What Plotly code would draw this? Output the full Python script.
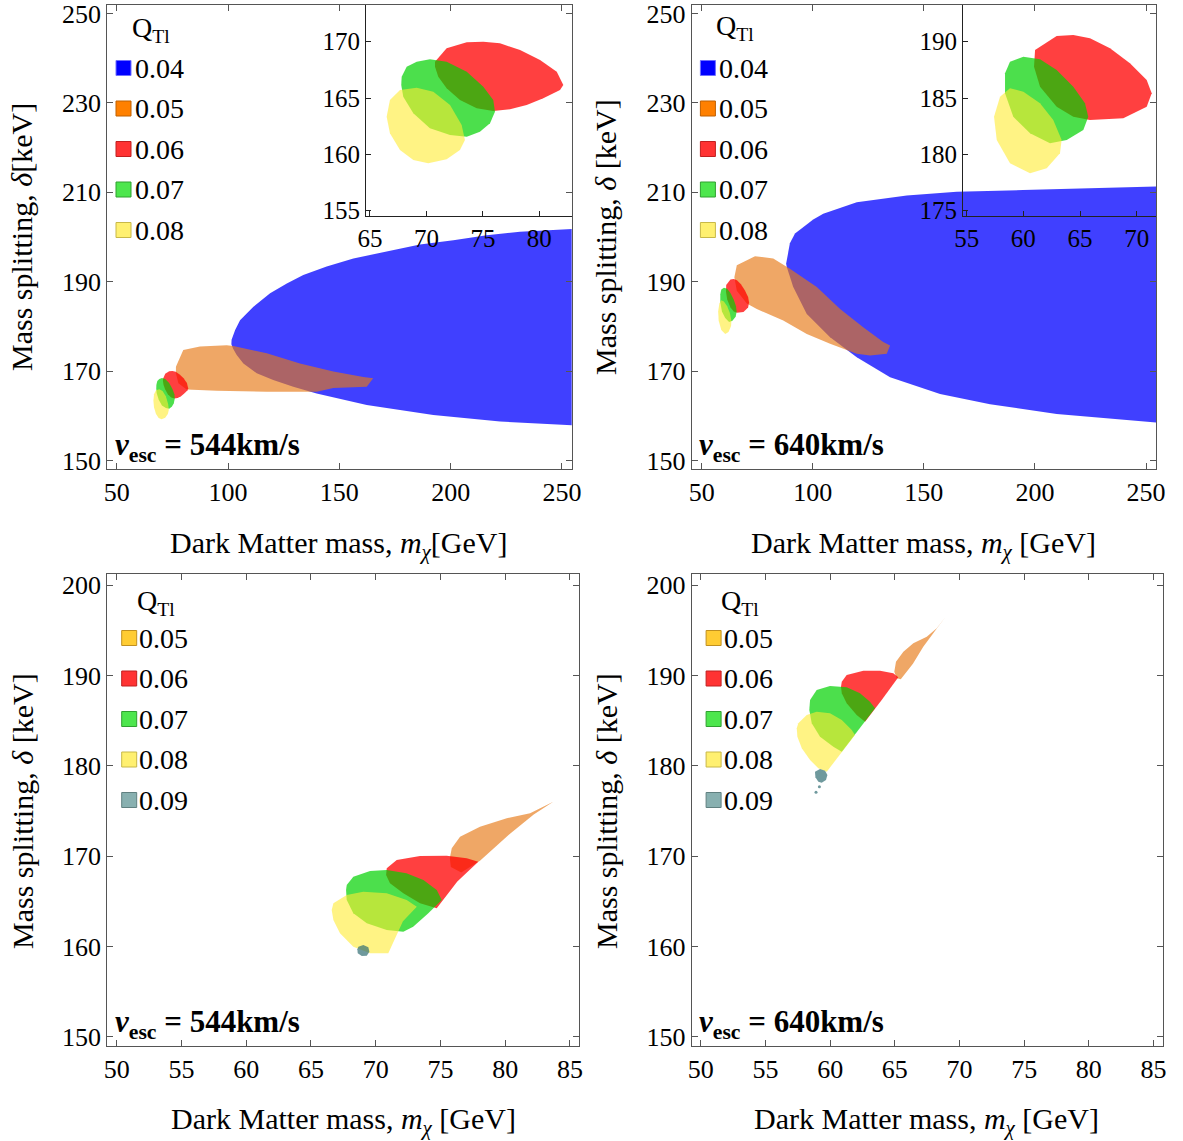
import plotly.graph_objects as go

W, H = 1183, 1141
FONT = "Liberation Serif"

# ---------------- legend categories ----------------
Q_TOP = ["0.04", "0.05", "0.06", "0.07", "0.08"]
Q_BOT = ["0.05", "0.06", "0.07", "0.08", "0.09"]
VESC = ["544", "640", "544", "640"]

# ---------------- tick values ----------------
TOP_XTICKS = [50, 100, 150, 200, 250]
TOP_YTICKS = [150, 170, 190, 210, 230, 250]
BOT_XTICKS = [50, 55, 60, 65, 70, 75, 80, 85]
BOT_YTICKS = [150, 160, 170, 180, 190, 200]
INS1_XTICKS = [65, 70, 75, 80]
INS1_YTICKS = [155, 160, 165, 170]
INS2_XTICKS = [55, 60, 65, 70]
INS2_YTICKS = [175, 180, 185, 190]

# ---------------- top-left panel (v_esc = 544 km/s), region outlines ----------------
TL_BLUE_X = [101.5, 101.6, 103.2, 105.4, 108.4, 111.4, 118.9, 126.4, 133.8, 144.3, 156.3, 171.3,
             186.2, 201.2, 216.2, 231.1, 254.4, 262.0,
             262.0, 254.4, 222.2, 192.2, 162.3, 139.8, 129.3, 120.3, 112.9, 106.9, 103.9, 102.3]
TL_BLUE_Y = [176.0, 177.0, 179.2, 181.4, 182.9, 184.4, 187.4, 189.6, 191.5, 193.4, 195.2, 196.7,
             198.3, 199.3, 200.4, 201.2, 201.9, 202.0,
             157.8, 157.9, 158.7, 160.2, 162.4, 165.0, 166.5, 168.0, 169.5, 171.7, 173.6, 175.0]

TL_ORANGE_X = [76.6, 79.9, 87.4, 99.4, 102.4, 117.4, 132.3, 147.3, 160.8, 165.2, 162.3,
               147.3, 139.8, 117.4, 94.9, 81.4, 77.7, 76.6]
TL_ORANGE_Y = [171.0, 174.7, 175.5, 175.8, 175.6, 174.0, 171.7, 169.9, 168.7, 168.4, 166.5,
               166.2, 165.4, 165.4, 165.6, 165.9, 167.3, 169.5]

TL_RED_X = [70.76, 71.79, 73.57, 75.04, 76.51, 78.29, 80.06, 81.54, 82.12, 81.83, 80.35,
            78.88, 77.40, 75.92, 74.45, 72.97, 71.79, 71.05, 70.76]
TL_RED_Y = [168.23, 169.41, 169.95, 170.00, 169.86, 169.26, 168.38, 167.34, 166.16, 165.71, 164.98,
            164.38, 164.00, 163.85, 164.09, 164.83, 165.87, 166.89, 167.78]

TL_GREEN_X = [67.81, 68.25, 69.14, 70.31, 71.79, 73.57, 75.04, 75.92, 76.07, 75.63, 74.74,
              73.57, 72.09, 70.31, 68.84, 67.95, 67.77]
TL_GREEN_Y = [166.89, 167.78, 168.23, 168.44, 168.23, 167.34, 166.01, 164.83, 163.79, 162.76, 162.01,
              161.57, 161.72, 162.32, 163.65, 165.12, 166.16]

TL_YELLOW_X = [66.77, 67.66, 69.14, 70.61, 72.09, 73.12, 73.41, 72.97, 71.79, 70.16, 68.84,
               67.66, 66.77, 66.48]
TL_YELLOW_Y = [164.83, 165.71, 165.92, 165.56, 164.38, 162.61, 161.28, 160.39, 159.57, 159.21, 159.50,
               160.39, 161.87, 163.35]

# ---------------- top-right panel (v_esc = 640 km/s) ----------------
TR_BLUE_X = [88.0, 88.3, 89.7, 92.0, 95.7, 100.2, 104.7, 119.8, 142.3, 164.8, 194.6, 254.5, 262.0,
             262.0, 254.5, 209.8, 179.8, 157.3, 134.8, 119.8, 107.8, 97.3, 91.2, 88.3]
TR_BLUE_Y = [194.0, 194.8, 198.6, 200.8, 202.2, 203.9, 205.2, 207.8, 209.3, 210.1, 210.5, 211.3, 211.4,
             158.4, 158.5, 160.4, 162.6, 164.9, 168.6, 173.1, 177.6, 182.8, 188.8, 193.3]

TR_ORANGE_X = [65.8, 74.0, 82.2, 89.7, 101.8, 112.3, 122.7, 131.7, 134.8, 133.3, 125.8,
               119.8, 107.8, 97.3, 86.7, 74.8, 70.3, 65.8, 64.7]
TR_ORANGE_Y = [193.7, 195.7, 195.2, 192.9, 188.8, 183.9, 179.8, 176.5, 175.7, 173.9, 173.5,
               173.9, 176.1, 178.3, 181.3, 183.9, 185.1, 188.0, 191.0]

TR_RED_X = [62.94, 61.03, 60.94, 61.47, 62.94, 64.41, 65.88, 68.82, 70.89, 71.33, 70.89,
            69.41, 67.65, 65.88, 64.41]
TR_RED_Y = [190.50, 189.26, 187.78, 186.00, 184.23, 183.34, 183.05, 183.20, 184.23, 185.42, 186.60,
            188.08, 189.41, 190.30, 190.60]

TR_GREEN_X = [60.00, 58.82, 58.38, 58.38, 59.11, 60.59, 62.35, 63.83, 65.29, 65.73, 65.44,
              64.41, 62.94, 61.47]
TR_GREEN_Y = [188.67, 188.23, 187.20, 185.42, 183.34, 181.87, 180.98, 181.28, 182.17, 183.34, 184.53,
              186.00, 187.49, 188.44]

TR_YELLOW_X = [58.82, 57.94, 57.41, 57.65, 58.82, 60.59, 62.06, 63.23, 63.38, 62.64, 61.47, 60.00]
TR_YELLOW_Y = [185.87, 185.12, 183.34, 181.28, 179.21, 178.32, 178.77, 180.10, 181.28, 183.05, 184.53, 185.56]

# ---------------- bottom-left panel (v_esc = 544 km/s) ----------------
BL_ORANGE_X = [83.71, 81.92, 80.12, 78.05, 76.51, 75.87, 75.72, 75.80, 76.60, 78.05, 80.30, 82.20]
BL_ORANGE_Y = [176.03, 174.75, 174.19, 173.26, 172.16, 170.87, 169.77, 168.80, 168.20, 169.50, 172.40, 174.60]

BL_RED_X = [70.85, 71.62, 73.42, 75.48, 77.03, 77.92, 76.30, 74.71, 73.42, 72.13, 71.10, 70.80]
BL_RED_Y = [168.66, 169.58, 170.02, 170.06, 169.77, 169.39, 167.20, 164.24, 164.79, 165.90, 167.00, 167.92]

BL_GREEN_X = [67.76, 68.27, 69.56, 70.85, 72.37, 73.68, 74.71, 75.10, 74.00, 72.89, 72.13,
              70.85, 69.31, 68.27, 67.76, 67.71]
BL_GREEN_Y = [166.81, 167.73, 168.36, 168.47, 168.10, 167.37, 166.26, 165.15, 163.60, 162.20, 161.65,
              161.84, 162.58, 163.68, 165.15, 166.26]

BL_YELLOW_X = [66.73, 67.76, 69.04, 70.85, 72.39, 73.17, 72.10, 70.97, 69.56, 68.27, 67.24, 66.73, 66.60]
BL_YELLOW_Y = [164.79, 165.71, 166.07, 165.90, 165.15, 164.41, 162.80, 159.26, 159.26, 159.99, 161.47, 162.94, 164.05]

BL_TEAL_X = [68.66, 69.04, 69.43, 69.51, 69.31, 68.92, 68.61, 68.58]
BL_TEAL_Y = [159.99, 160.18, 159.92, 159.44, 158.99, 158.96, 159.26, 159.70]

# ---------------- bottom-right panel (v_esc = 640 km/s) ----------------
BR_ORANGE_X = [68.93, 68.24, 67.47, 66.43, 65.66, 65.09, 64.96, 65.15, 65.46, 66.40, 67.20, 68.10]
BR_ORANGE_Y = [196.49, 195.21, 194.28, 193.55, 192.62, 191.52, 190.41, 189.68, 189.57, 191.30, 193.18, 194.90]

BR_RED_X = [60.90, 61.28, 62.57, 63.86, 64.88, 65.27, 64.00, 62.70, 62.05, 61.28, 60.90, 60.84]
BR_RED_Y = [189.30, 190.04, 190.52, 190.52, 190.23, 189.79, 187.30, 184.88, 185.62, 186.91, 188.02, 188.75]

BR_GREEN_X = [58.45, 58.96, 59.99, 61.28, 62.31, 63.08, 63.47, 62.20, 60.90, 60.25, 59.22, 58.58, 58.39]
BR_GREEN_Y = [187.28, 188.38, 188.83, 188.68, 188.02, 187.09, 186.36, 184.00, 181.56, 182.11, 183.22, 184.70, 186.17]

BR_YELLOW_X = [57.54, 58.19, 58.96, 59.99, 60.90, 61.67, 61.92, 60.80, 59.74, 59.09, 58.45, 57.81, 57.47, 57.42]
BR_YELLOW_Y = [184.70, 185.62, 185.99, 185.81, 185.07, 183.96, 183.41, 181.30, 179.35, 179.72, 180.64, 181.94, 183.22, 184.15]

BR_TEAL_X = [58.83, 59.22, 59.61, 59.79, 59.68, 59.35, 59.09, 58.86]
BR_TEAL_Y = [179.35, 179.65, 179.46, 178.98, 178.43, 178.13, 178.24, 178.73]
BR_TEAL_DOTS_X = [59.17, 58.91]
BR_TEAL_DOTS_Y = [177.69, 177.07]

# ---------------- styles ----------------
FILL = {
    "0.04": "rgba(0,0,255,0.75)",
    "0.05": "rgba(230,120,20,0.65)",
    "0.06": "rgba(255,0,0,0.75)",
    "0.07": "rgba(0,210,0,0.70)",
    "0.08": "rgba(255,235,50,0.60)",
    "0.09": "rgba(50,110,115,0.70)",
}
LEG_TOP = {"0.04": ("#0000ff", "#7070ff"), "0.05": ("#ff8000", "#c06000"),
           "0.06": ("#ff3333", "#c02020"), "0.07": ("#4de64d", "#30a030"),
           "0.08": ("#fff070", "#c8b848")}
LEG_BOT = {"0.05": ("#ffcc33", "#c09020"), "0.06": ("#ff3333", "#c02020"),
           "0.07": ("#4de64d", "#30a030"), "0.08": ("#fff070", "#c8b848"),
           "0.09": ("#88b0b0", "#608080")}

FRAME = "#555555"


def px(x):
    return x / W


def py(y):
    return 1 - y / H


fig = go.Figure()


def region(xs, ys, q, ax):
    fig.add_trace(go.Scatter(
        x=xs, y=ys, fill="toself", fillcolor=FILL[q], mode="lines",
        line=dict(width=0, color=FILL[q]), hoverinfo="skip", showlegend=False,
        xaxis="x" + ax, yaxis="y" + ax))


# main panels
region(TL_BLUE_X, TL_BLUE_Y, "0.04", "")
region(TL_ORANGE_X, TL_ORANGE_Y, "0.05", "")
region(TL_RED_X, TL_RED_Y, "0.06", "")
region(TL_GREEN_X, TL_GREEN_Y, "0.07", "")
region(TL_YELLOW_X, TL_YELLOW_Y, "0.08", "")

region(TR_BLUE_X, TR_BLUE_Y, "0.04", "2")
region(TR_ORANGE_X, TR_ORANGE_Y, "0.05", "2")
region(TR_RED_X, TR_RED_Y, "0.06", "2")
region(TR_GREEN_X, TR_GREEN_Y, "0.07", "2")
region(TR_YELLOW_X, TR_YELLOW_Y, "0.08", "2")

region(BL_ORANGE_X, BL_ORANGE_Y, "0.05", "3")
region(BL_RED_X, BL_RED_Y, "0.06", "3")
region(BL_GREEN_X, BL_GREEN_Y, "0.07", "3")
region(BL_YELLOW_X, BL_YELLOW_Y, "0.08", "3")
region(BL_TEAL_X, BL_TEAL_Y, "0.09", "3")

region(BR_ORANGE_X, BR_ORANGE_Y, "0.05", "4")
region(BR_RED_X, BR_RED_Y, "0.06", "4")
region(BR_GREEN_X, BR_GREEN_Y, "0.07", "4")
region(BR_YELLOW_X, BR_YELLOW_Y, "0.08", "4")
region(BR_TEAL_X, BR_TEAL_Y, "0.09", "4")
fig.add_trace(go.Scatter(x=BR_TEAL_DOTS_X, y=BR_TEAL_DOTS_Y, mode="markers",
                         marker=dict(size=3, color=FILL["0.09"]), hoverinfo="skip",
                         showlegend=False, xaxis="x4", yaxis="y4"))

# insets
region(TL_RED_X, TL_RED_Y, "0.06", "5")
region(TL_GREEN_X, TL_GREEN_Y, "0.07", "5")
region(TL_YELLOW_X, TL_YELLOW_Y, "0.08", "5")
region(TR_RED_X, TR_RED_Y, "0.06", "6")
region(TR_GREEN_X, TR_GREEN_Y, "0.07", "6")
region(TR_YELLOW_X, TR_YELLOW_Y, "0.08", "6")

# ---------------- axes ----------------
tickfont = dict(family=FONT, size=26, color="black")


def main_axis(dom, rng, ticks, anchor):
    return dict(domain=dom, range=rng, tickvals=ticks, ticktext=[str(t) for t in ticks],
                showline=True, linecolor=FRAME, linewidth=1, mirror="ticks",
                ticks="inside", ticklen=6, tickcolor=FRAME, tickwidth=1,
                showgrid=False, zeroline=False, tickfont=tickfont, anchor=anchor,
                fixedrange=True, automargin=False, ticklabeloverflow="allow")


def inset_axis(dom, rng, ticks, anchor):
    return dict(domain=dom, range=rng, tickvals=ticks, ticktext=[str(t) for t in ticks],
                showline=True, linecolor="#222222", linewidth=1, mirror=False,
                ticks="inside", ticklen=5, tickcolor="#222222", tickwidth=1,
                showgrid=False, zeroline=False,
                tickfont=dict(family=FONT, size=25, color="black"), anchor=anchor,
                fixedrange=True, automargin=False, ticklabeloverflow="allow")


TLx = [px(107.3), px(571.7)]
TRx = [px(691.7), px(1156)]
BLx = [px(107.3), px(579.3)]
BRx = [px(691.7), px(1163)]
TOPy = [py(469), py(5)]
BOTy = [py(1046), py(574)]

fig.update_layout(
    template="none",
    xaxis=main_axis(TLx, [45.78, 254.36], TOP_XTICKS, "y"),
    yaxis=main_axis(TOPy, [148.1, 251.9], TOP_YTICKS, "x"),
    xaxis2=main_axis(TRx, [45.5, 254.5], TOP_XTICKS, "y2"),
    yaxis2=main_axis(TOPy, [148.1, 251.9], TOP_YTICKS, "x2"),
    xaxis3=main_axis(BLx, [49.27, 85.72], BOT_XTICKS, "y3"),
    yaxis3=main_axis(BOTy, [149.0, 201.22], BOT_YTICKS, "x3"),
    xaxis4=main_axis(BRx, [49.30, 85.73], BOT_XTICKS, "y4"),
    yaxis4=main_axis(BOTy, [149.0, 201.22], BOT_YTICKS, "x4"),
    xaxis5=inset_axis([px(366), px(572)], [64.65, 82.89], INS1_XTICKS, "y5"),
    yaxis5=inset_axis([py(216), py(5)], [154.53, 173.26], INS1_YTICKS, "x5"),
    xaxis6=inset_axis([px(963), px(1156)], [54.67, 71.71], INS2_XTICKS, "y6"),
    yaxis6=inset_axis([py(216), py(5)], [174.53, 193.26], INS2_YTICKS, "x6"),
)

# ---------------- text annotations ----------------
ann = []
shapes = []
titlefont = dict(family=FONT, size=30, color="black")

X_TITLES = ["Dark Matter mass, <i>m</i><sub><i>χ</i></sub>[GeV]",
            "Dark Matter mass, <i>m</i><sub><i>χ</i></sub> [GeV]",
            "Dark Matter mass, <i>m</i><sub><i>χ</i></sub> [GeV]",
            "Dark Matter mass, <i>m</i><sub><i>χ</i></sub> [GeV]"]
Y_TITLES = ["Mass splitting, <i>δ</i>[keV]",
            "Mass splitting, <i>δ</i> [keV]",
            "Mass splitting, <i>δ</i> [keV]",
            "Mass splitting, <i>δ</i> [keV]"]
xt_pos = [(339, 545), (923, 545), (343, 1121), (926, 1121)]
yt_pos = [(22, 237), (606, 237), (22, 811), (606, 811)]
for i in range(4):
    ann.append(dict(x=px(xt_pos[i][0]), y=py(xt_pos[i][1]), xref="paper", yref="paper",
                    text=X_TITLES[i], showarrow=False, font=titlefont,
                    xanchor="center", yanchor="middle"))
    ann.append(dict(x=px(yt_pos[i][0]), y=py(yt_pos[i][1]), xref="paper", yref="paper",
                    text=Y_TITLES[i], showarrow=False, font=titlefont, textangle=-90,
                    xanchor="center", yanchor="middle"))

# v_esc labels
vesc_pos = [(113, 447), (697, 447), (113, 1024), (697, 1024)]
for i in range(4):
    ann.append(dict(x=px(vesc_pos[i][0]), y=py(vesc_pos[i][1]), xref="paper", yref="paper",
                    text="<b><i>v</i><sub>esc</sub> = " + VESC[i] + "km/s</b>",
                    showarrow=False, font=dict(family=FONT, size=31, color="black"),
                    xanchor="left", yanchor="middle"))

# legends
legfont = dict(family=FONT, size=28, color="black")


def legend(frame_left, top_y, q_list, colors, sq_off, txt_off, q_off, y_start):
    ann.append(dict(x=px(frame_left + q_off), y=py(top_y), xref="paper", yref="paper",
                    text="Q<sub>Tl</sub>", showarrow=False, font=legfont,
                    xanchor="left", yanchor="middle"))
    for k, q in enumerate(q_list):
        yc = y_start + k * 40.5
        fill, border = colors[q]
        x0 = frame_left + sq_off
        shapes.append(dict(type="rect", xref="paper", yref="paper",
                           x0=px(x0), x1=px(x0 + 15), y0=py(yc + 7.5), y1=py(yc - 7.5),
                           fillcolor=fill, line=dict(color=border, width=1)))
        ann.append(dict(x=px(frame_left + txt_off), y=py(yc), xref="paper", yref="paper",
                        text=q, showarrow=False, font=legfont,
                        xanchor="left", yanchor="middle"))


legend(107.3, 29, Q_TOP, LEG_TOP, 8.7, 25.5, 22.5, 68)
legend(691.7, 27, Q_TOP, LEG_TOP, 8.7, 25.5, 22.5, 68)
legend(107.3, 602, Q_BOT, LEG_BOT, 14.4, 30.0, 27.5, 638)
legend(691.7, 602, Q_BOT, LEG_BOT, 14.4, 30.0, 27.5, 638)

fig.update_layout(
    width=W, height=H, autosize=False,
    margin=dict(l=0, r=0, t=0, b=0, pad=0),
    paper_bgcolor="white", plot_bgcolor="rgba(0,0,0,0)",
    showlegend=False, annotations=ann, shapes=shapes,
    font=dict(family=FONT, color="black"),
)

# remove the default page margin so the figure sits at the window's top-left corner
fig.write_html("out.html", config={"displayModeBar": False},
               post_script="document.body.style.margin='0px';")
